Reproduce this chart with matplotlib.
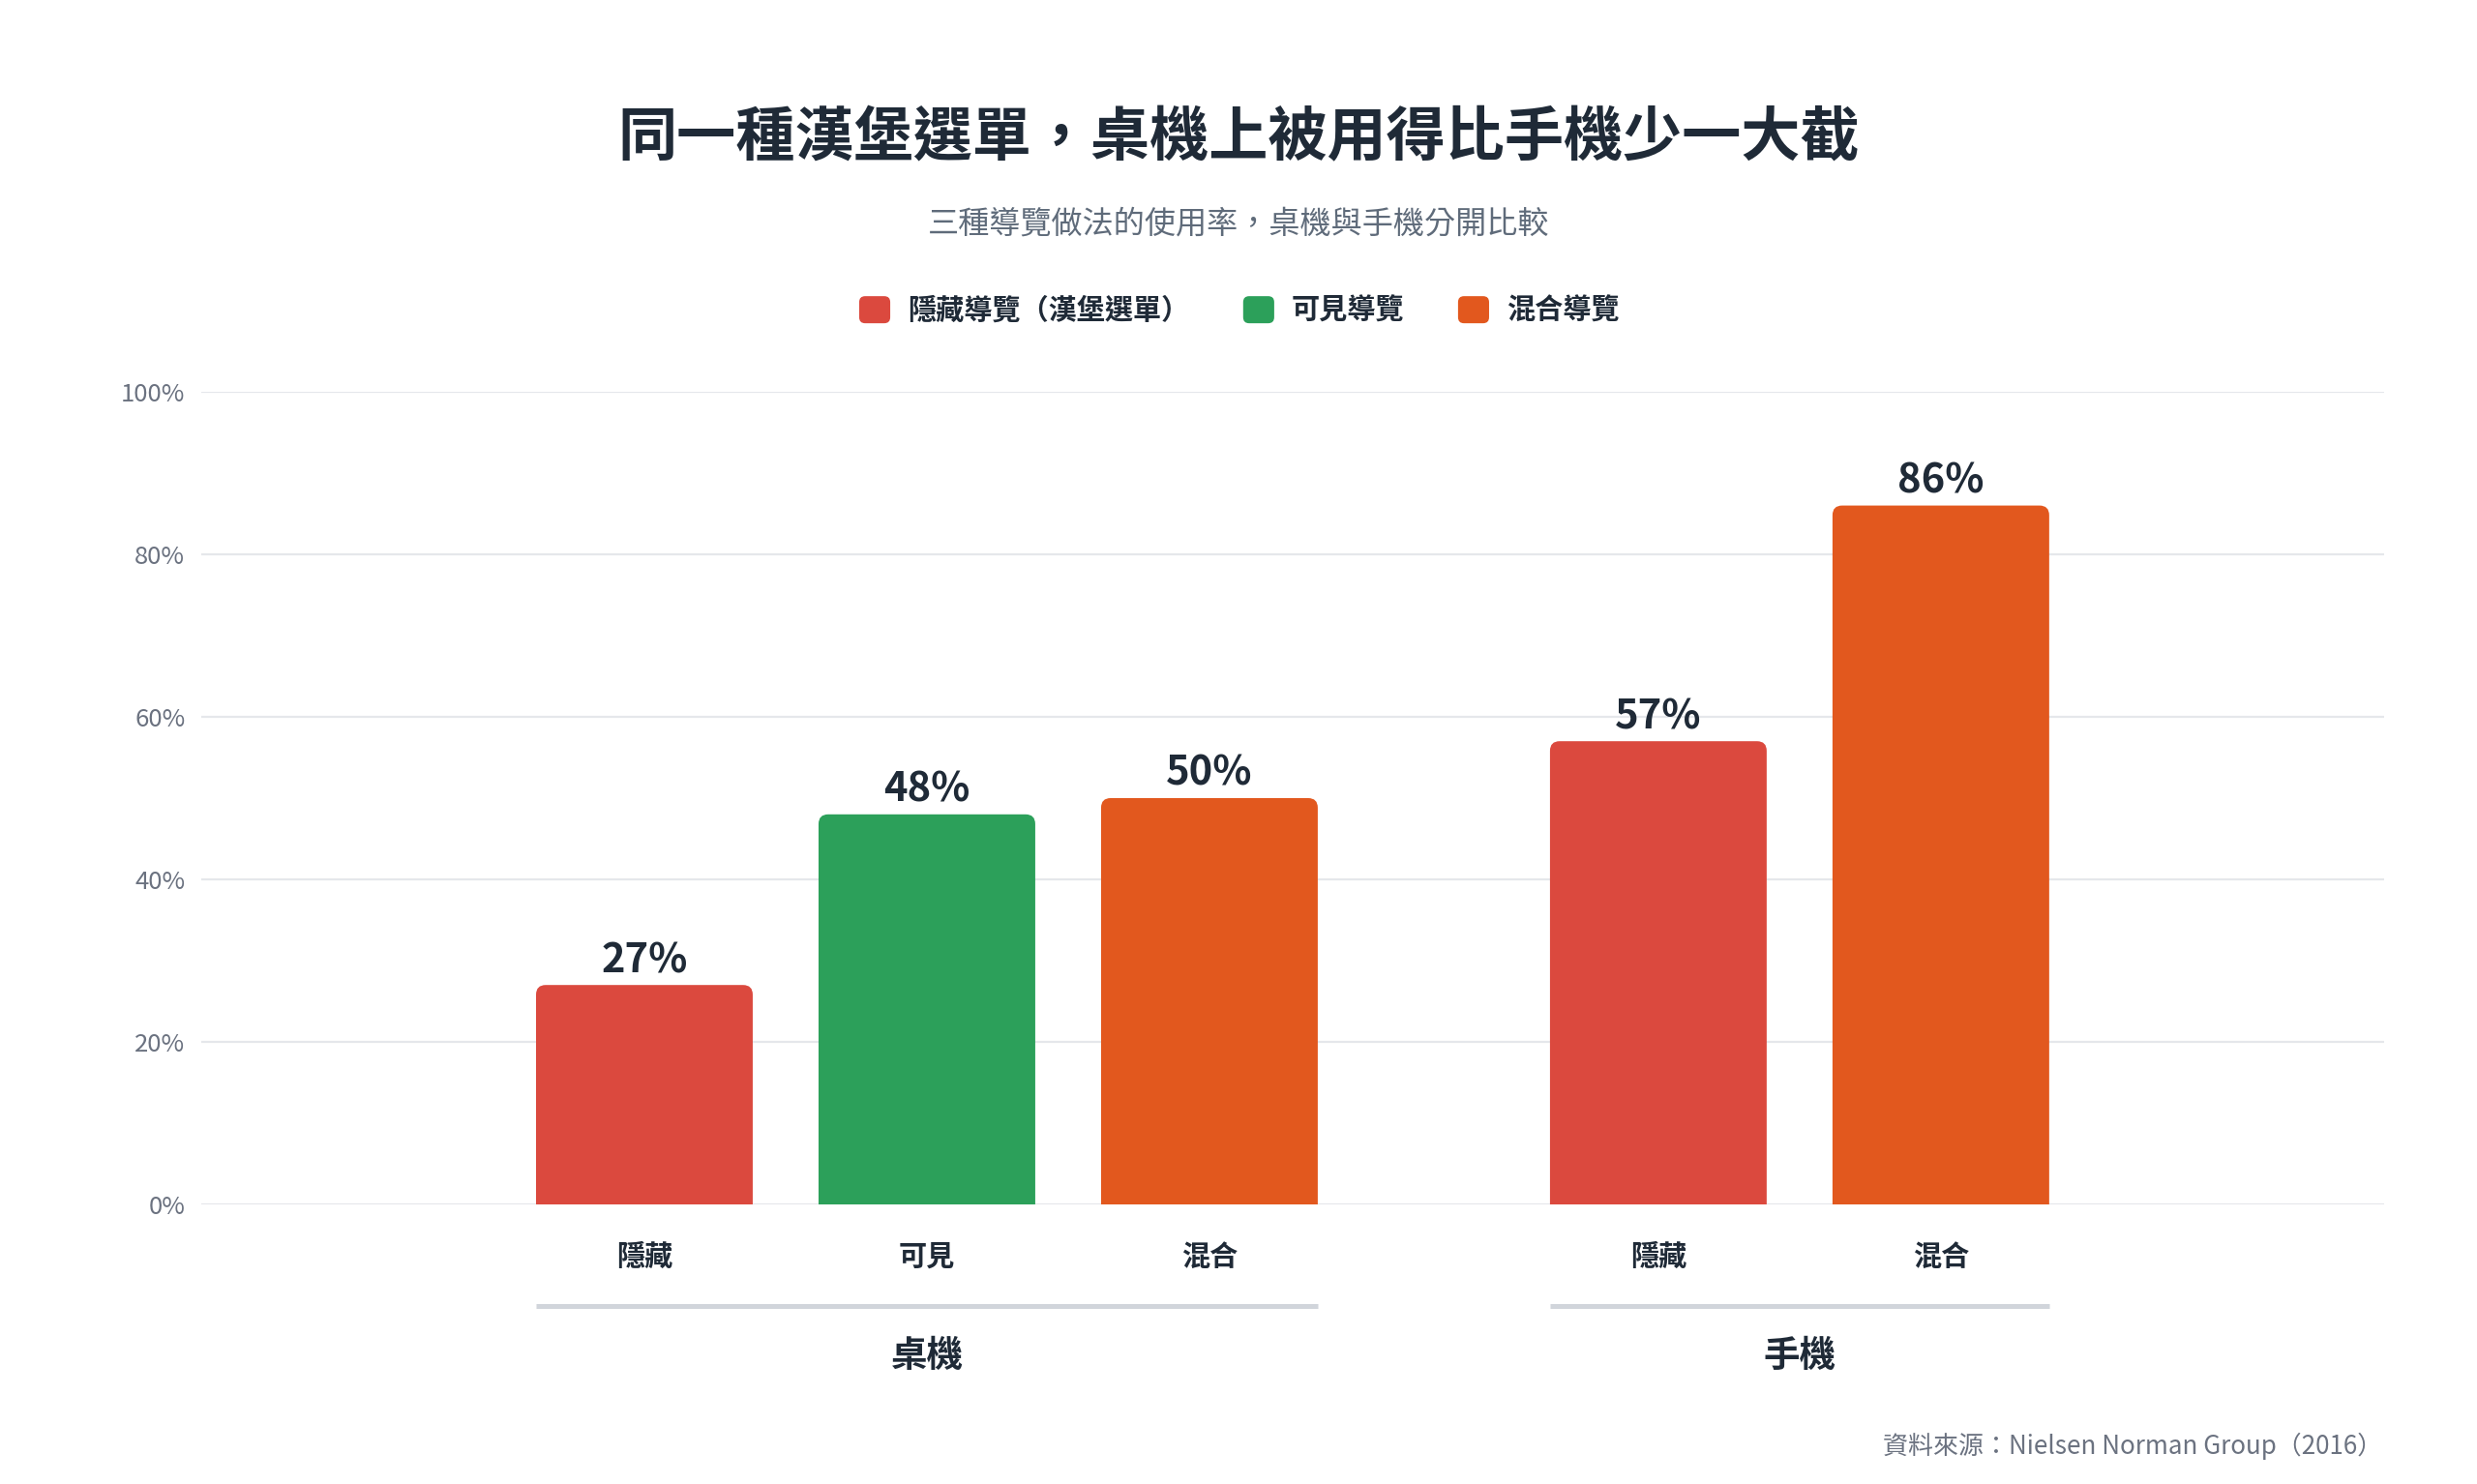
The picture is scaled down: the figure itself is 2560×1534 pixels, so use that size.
import numpy as np
import matplotlib.pyplot as plt
from matplotlib.patches import FancyBboxPatch, Patch
from matplotlib.legend_handler import HandlerPatch

plt.rcParams['font.family'] = ['Noto Sans CJK TC', 'DejaVu Sans']

# data
groups = ['桌機', '手機']
group_items = [['隱藏', '可見', '混合'], ['隱藏', '混合']]
group_values = [[27, 48, 50], [57, 86]]
series_keys = ['隱藏', '可見', '混合']
series_names = ['隱藏導覽（漢堡選單）', '可見導覽', '混合導覽']
series_colors = {'隱藏': '#DB493E', '可見': '#2CA05A', '混合': '#E2581E'}
yticks = [0, 20, 40, 60, 80, 100]

TITLE = '同一種漢堡選單，桌機上被用得比手機少一大截'
SUBTITLE = '三種導覽做法的使用率，桌機與手機分開比較'
SOURCE = '資料來源：Nielsen Norman Group（2016）'

DARK = '#1F2A37'
GRAY = '#6B7280'


class RoundHandler(HandlerPatch):
    # rounded square legend swatch
    def create_artists(self, legend, orig_handle, xdescent, ydescent, width, height, fontsize, trans):
        rad = 0.22 * height
        p = FancyBboxPatch((-xdescent + rad, -ydescent + rad), width - 2 * rad, height - 2 * rad,
                           boxstyle=f'round,pad={rad}', facecolor=orig_handle.get_facecolor(),
                           edgecolor='none', transform=trans)
        return [p]


fig = plt.figure(figsize=(25.6, 15.34), dpi=100)
ax = fig.add_axes([0.08125, 0.1884, 0.88125, 0.5476])

bar_w = 0.767
group_gap = 0.589
ax.set_xlim(-1.5685, 6.158)
ax.set_ylim(0, 100)

for s in ax.spines.values():
    s.set_visible(False)
ax.set_yticks(yticks)
ax.set_yticklabels([f'{v}%' for v in yticks], fontsize=18.5, color=GRAY)
ax.tick_params(axis='y', length=0, pad=12)
ax.set_xticks([])
ax.grid(axis='y', color='#E5E7EB', linewidth=1.6)
ax.set_axisbelow(True)

fig.canvas.draw()
# pixel aspect so rounded corners come out circular
p0 = ax.transData.transform((0, 0))
p1 = ax.transData.transform((1, 1))
aspect = (p1[0] - p0[0]) / (p1[1] - p0[1])
r = 0.034

x = 0.0
for g, items, vals in zip(groups, group_items, group_values):
    xs = []
    for item, v in zip(items, vals):
        patch = FancyBboxPatch((x - bar_w / 2 + r, -5), bar_w - 2 * r, v + 5 - r * aspect,
                               boxstyle=f'round,pad={r}', mutation_aspect=aspect,
                               facecolor=series_colors[item], edgecolor='none', zorder=3)
        ax.add_patch(patch)
        ax.annotate(f'{v}%', (x, v), xytext=(0, 3), textcoords='offset points',
                    ha='center', va='bottom', fontsize=30, fontweight='bold', color=DARK)
        ax.text(x, -0.064, item, transform=ax.get_xaxis_transform(), ha='center',
                va='center', fontsize=21, fontweight='bold', color=DARK, clip_on=False)
        xs.append(x)
        x += 1
    ax.plot([xs[0] - bar_w / 2, xs[-1] + bar_w / 2], [-0.125, -0.125],
            transform=ax.get_xaxis_transform(), color='#D1D5DB', linewidth=3.6,
            solid_capstyle='butt', clip_on=False)
    ax.text(np.mean(xs), -0.1857, g, transform=ax.get_xaxis_transform(), ha='center',
            va='center', fontsize=27, fontweight='bold', color=DARK, clip_on=False)
    x += group_gap

fig.text(0.5, 0.9061, TITLE, ha='center', va='center', fontsize=44, fontweight='heavy', color=DARK)
fig.text(0.5, 0.849, SUBTITLE, ha='center', va='center', fontsize=23.1, color='#5F6B7A')

handles = [Patch(facecolor=series_colors[k], edgecolor='none') for k in series_keys]
leg = fig.legend(handles, series_names, loc='center', bbox_to_anchor=(0.5003, 0.7907), ncol=3,
                 frameon=False, handlelength=1.1, handleheight=1.1, handletextpad=0.62,
                 columnspacing=1.9, prop={'size': 21, 'weight': 'bold'},
                 handler_map={Patch: RoundHandler()})
for t in leg.get_texts():
    t.set_color(DARK)

fig.text(0.962, 0.0254, SOURCE, ha='right', va='center', fontsize=18.7, color=GRAY)

fig.savefig('out.png', dpi=100, facecolor='white')
